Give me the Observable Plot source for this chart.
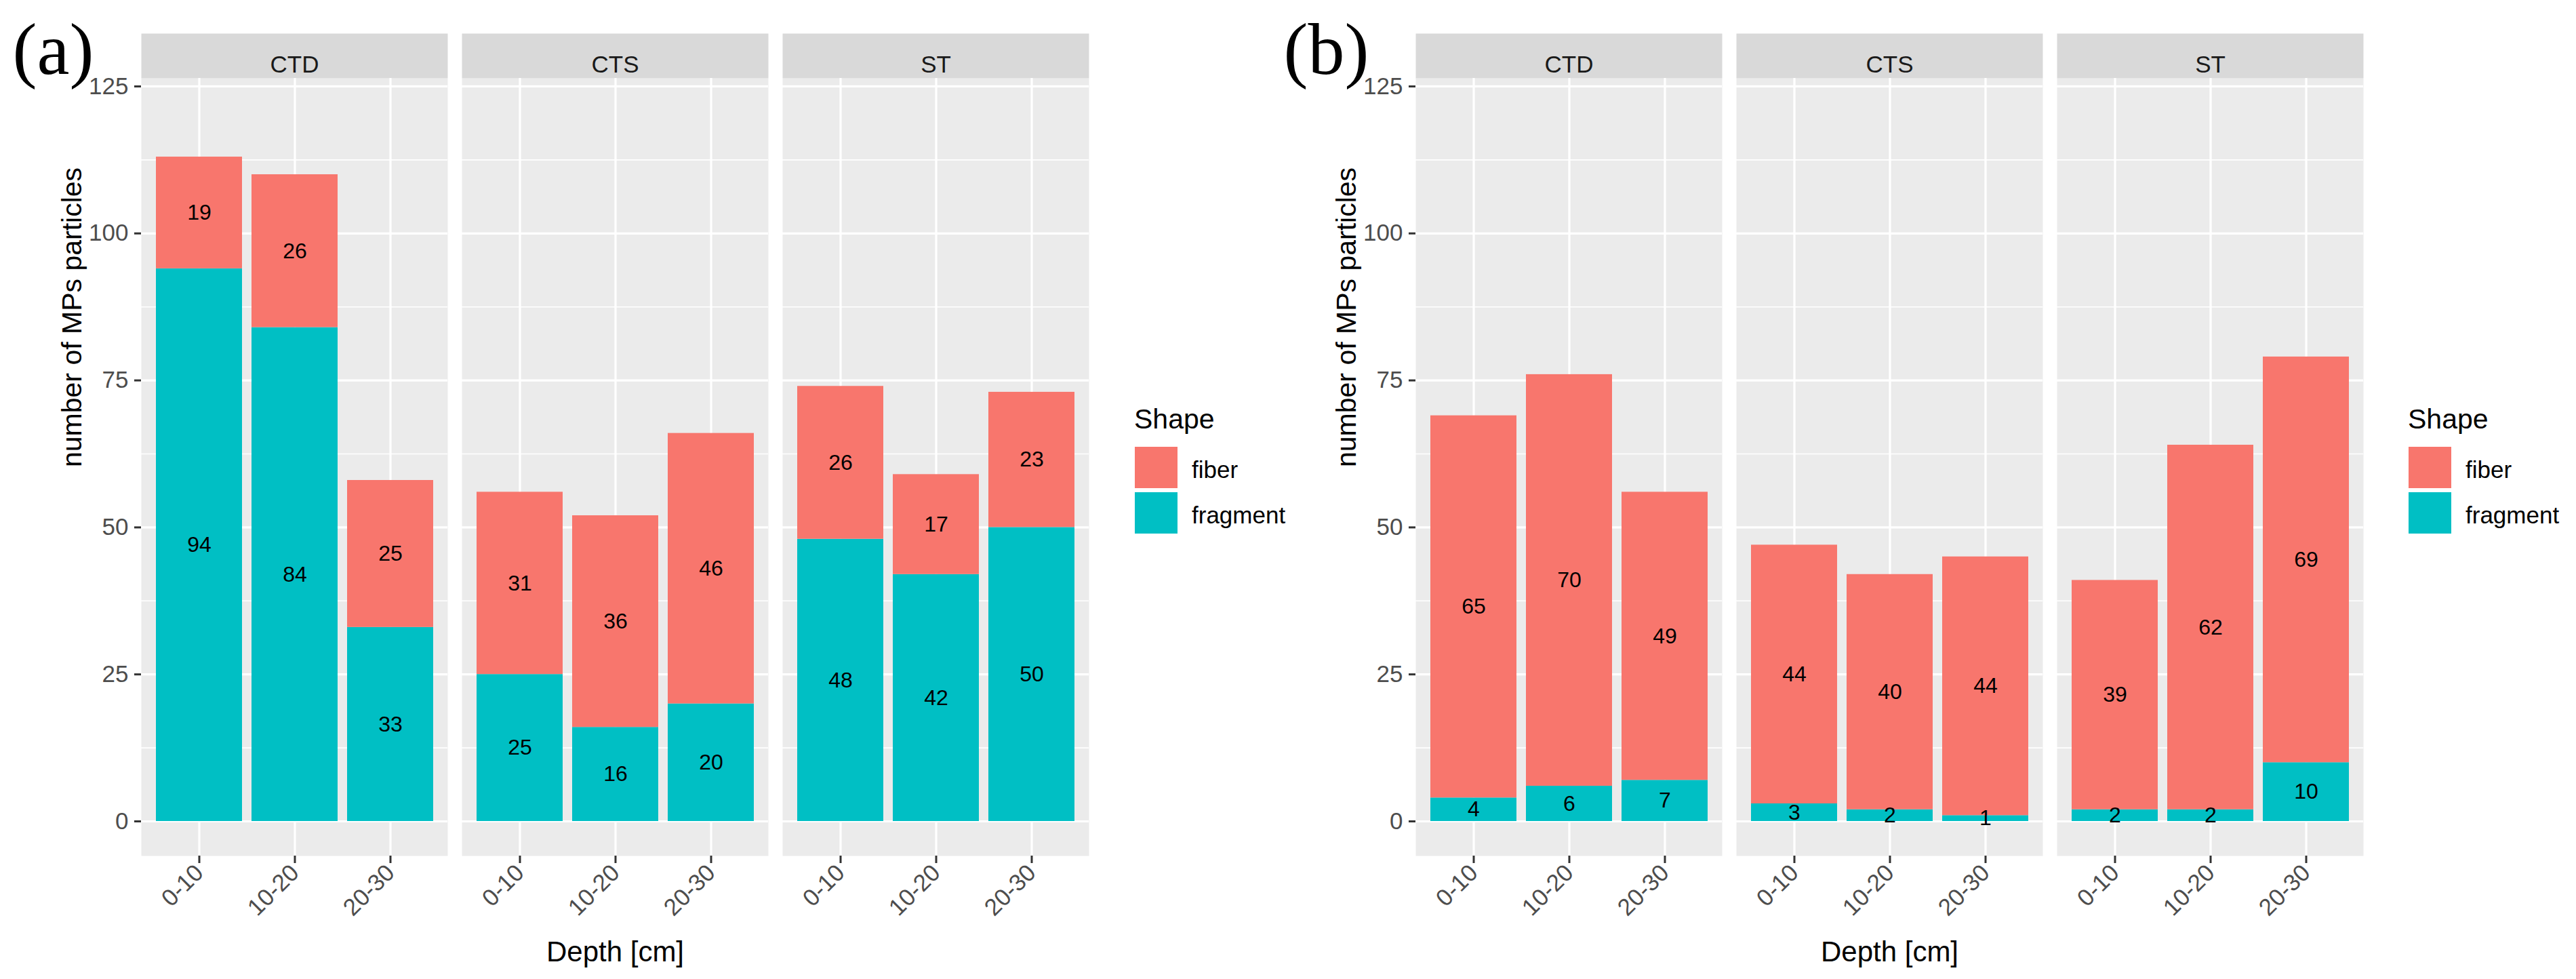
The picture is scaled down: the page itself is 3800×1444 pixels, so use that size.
<!DOCTYPE html>
<html><head><meta charset="utf-8">
<script src="https://cdn.jsdelivr.net/npm/d3@7"></script>
<script src="https://cdn.jsdelivr.net/npm/@observablehq/plot@0.6"></script>
<style>
html,body{margin:0;padding:0;background:#fff;}
#wrap{position:relative;width:3800px;height:1444px;overflow:hidden;background:#fff;}
#wrap > svg{position:absolute;top:0;}
</style></head><body><div id="wrap"></div>
<script>
const sites = ["CTD", "CTS", "ST"];
const depths = ["0-10", "10-20", "20-30"];
const shapes = ["fiber", "fragment"];
const shapeColors = ["#F8766D", "#00BFC4"];
const yTicks = [0, 25, 50, 75, 100, 125];
const yMinor = [12.5, 37.5, 62.5, 87.5, 112.5];
// values per site (CTD, CTS, ST) x depth (0-10, 10-20, 20-30)
const fiberA = [19, 26, 25, 31, 36, 46, 26, 17, 23];
const fragmentA = [94, 84, 33, 25, 16, 20, 48, 42, 50];
const fiberB = [65, 70, 49, 44, 40, 44, 39, 62, 69];
const fragmentB = [4, 6, 7, 3, 2, 1, 2, 2, 10];

const SANS = "'Liberation Sans', Arial, sans-serif";
const SERIF = "'Liberation Serif', 'Times New Roman', serif";

function buildRows(fiber, fragment) {
  const rows = [];
  sites.forEach((s, i) => depths.forEach((d, j) => {
    const k = i * 3 + j;
    rows.push({site: s, depth: d, shape: "fragment", value: fragment[k]});
    rows.push({site: s, depth: d, shape: "fiber", value: fiber[k]});
  }));
  return rows;
}

function makeChart(tag, fiber, fragment, tagDx) {
  const rows = buildRows(fiber, fragment);
  return Plot.plot({
    width: 1640, height: 1444,
    marginLeft: 207, marginRight: 32, marginTop: 115, marginBottom: 182,
    style: {fontFamily: SANS, fontSize: "34px", background: "transparent", overflow: "visible"},
    fx: {domain: sites, paddingInner: 21 / 474, paddingOuter: 0, axis: null, label: null},
    x: {domain: depths, paddingInner: 0.1, paddingOuter: 0.15, label: null},
    y: {domain: [-5.88, 126.38], label: null},
    color: {domain: shapes, range: shapeColors},
    marks: [
      Plot.frame({fill: "#EBEBEB"}),
      Plot.frame({fill: "#D9D9D9", insetTop: -66, insetBottom: 1147}),
      Plot.gridY(yMinor, {stroke: "white", strokeOpacity: 1, strokeWidth: 1.6}),
      Plot.gridY(yTicks, {stroke: "white", strokeOpacity: 1, strokeWidth: 3.2}),
      Plot.gridX({stroke: "white", strokeOpacity: 1, strokeWidth: 3.2}),
      Plot.barY(rows, Plot.stackY({fx: "site", x: "depth", y: "value", fill: "shape"})),
      Plot.text(rows, Plot.stackY({fx: "site", x: "depth", y: "value", z: "shape",
        text: d => String(d.value), fontSize: 32, fill: "black"})),
      Plot.text(sites, {fx: d => d, text: d => d, frameAnchor: "top", dy: -33, fontSize: 35, fill: "#1A1A1A"}),
      Plot.axisY(yTicks, {tickSize: 10, tickPadding: 9, fontSize: 35, fill: "#4D4D4D", stroke: "#333333",
        strokeWidth: 3, label: null, facetAnchor: "left"}),
      Plot.axisX({tickSize: 11, tickPadding: 8, tickRotate: -45, fontSize: 35, fill: "#4D4D4D",
        stroke: "#333333", strokeWidth: 3, label: null}),
      Plot.text([{site: "CTD", t: "number of MPs particles"}], {fx: "site", text: "t", frameAnchor: "left",
        rotate: -90, lineAnchor: "bottom", dx: -89, fontSize: 41, fill: "black"}),
      Plot.text([{site: "CTS", t: "Depth [cm]"}], {fx: "site", text: "t", frameAnchor: "bottom",
        lineAnchor: "bottom", dy: 155, fontSize: 42, fill: "black"}),
      Plot.text([{site: "CTD", t: tag}], {fx: "site", text: "t", frameAnchor: "top-left", textAnchor: "start",
        lineAnchor: "bottom", dx: tagDx, dy: -7, fontSize: 108, fontFamily: SERIF, fill: "black"})
    ]
  });
}

const wrap = document.getElementById("wrap");
const chartA = makeChart("(a)", fiberA, fragmentA, -190);
chartA.style.left = "0px";
wrap.appendChild(chartA);
const chartB = makeChart("(b)", fiberB, fragmentB, -195);
chartB.style.left = "1880px";
wrap.appendChild(chartB);

// legends
const leg = d3.select(wrap).append("svg")
  .attr("width", 3800).attr("height", 1444)
  .style("left", "0px").style("pointer-events", "none");
[1674, 3553].forEach(x0 => {
  const g = leg.append("g").attr("transform", `translate(${x0},0)`);
  g.append("text").attr("x", -1).attr("y", 632).attr("font-family", SANS)
    .attr("font-size", 41).attr("fill", "black").text("Shape");
  shapes.forEach((s, i) => {
    const top = 659 + i * 67;
    g.append("rect").attr("x", 0).attr("y", top).attr("width", 63).attr("height", 61)
      .attr("fill", shapeColors[i]);
    g.append("text").attr("x", 84).attr("y", top + 46).attr("font-family", SANS)
      .attr("font-size", 35).attr("fill", "black").text(s);
  });
});
</script>
</body></html>
